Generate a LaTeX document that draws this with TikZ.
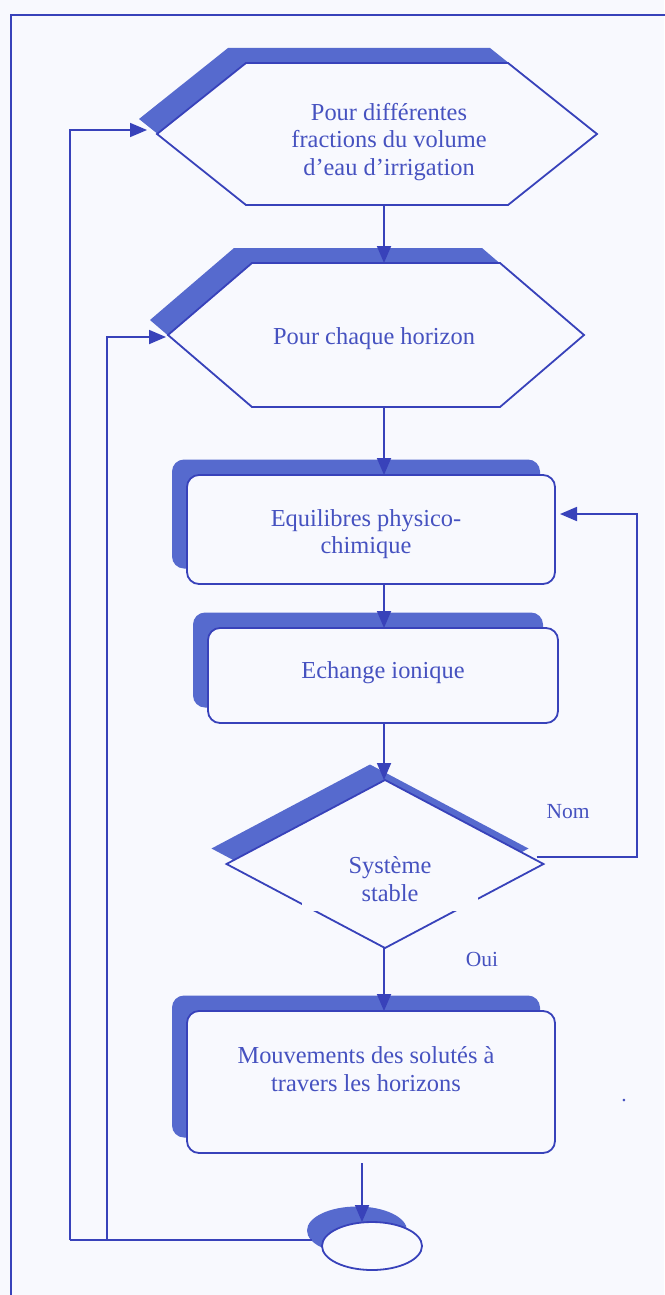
\documentclass[tikz,border=0pt]{standalone}
\usepackage{fontspec}
\setmainfont{Liberation Serif}
\usetikzlibrary{shapes.geometric,shadows,arrows.meta,calc}
\definecolor{ink}{RGB}{56,66,186}
\definecolor{shadowblue}{RGB}{86,106,206}
\definecolor{txt}{RGB}{70,82,192}
\definecolor{paper}{RGB}{248,249,254}
% outline of a hexagon built on a rectangular node: #1 node name, #2 slant width
\newcommand\hexpath[2]{(#1.west) -- ([xshift=#2]#1.north west) -- ([xshift=-#2]#1.north east) -- (#1.east) -- ([xshift=-#2]#1.south east) -- ([xshift=#2]#1.south west) -- cycle}
\begin{document}
\begin{tikzpicture}[x=1pt,y=-1pt,
  line/.style={draw=ink,line width=1.8pt},
  flow/.style={line,-{Triangle[length=17pt,width=14pt]}},
  shad/.style={drop shadow={shadow xshift=-15pt,shadow yshift=15.5pt,fill=shadowblue,opacity=1}},
  hexshad/.style={drop shadow={shadow xshift=-18pt,shadow yshift=15pt,fill=shadowblue,opacity=1}},
  frame/.style={rectangle,inner sep=0pt,outer sep=0pt},
  boxnode/.style={rectangle,rounded corners=12pt,draw=ink,line width=1.8pt,fill=paper,shad,inner sep=0pt,outer sep=0pt},
  lbl/.style={text=txt,font=\fontsize{24.4}{27.5}\selectfont,align=center,inner sep=0pt},
  small/.style={text=txt,font=\fontsize{21.5}{24}\selectfont,inner sep=0pt},
]
\useasboundingbox (0,0) rectangle (664,1295);
\fill[paper] (0,0) rectangle (664,1295);

% page frame
\draw[line] (670,15) -- (11,15) -- (11,1300);

% loop headers (hexagons)
\node[frame,minimum width=440pt,minimum height=142pt] (h1) at (377,134) {};
\draw[line,fill=paper,hexshad] \hexpath{h1}{89pt};
\node[lbl] (t1) at (389,142) {Pour différentes\\fractions du volume\\d’eau d’irrigation};

\node[frame,minimum width=416pt,minimum height=144pt] (h2) at (376,335) {};
\draw[line,fill=paper,hexshad] \hexpath{h2}{84pt};
\node[lbl] (t2) at (374,339) {Pour chaque horizon};

% process boxes
\node[boxnode,minimum width=368pt,minimum height=109pt] (b1) at (371,529.5) {};
\node[lbl] (t3) at (366,534) {Equilibres physico-\\chimique};

\node[boxnode,minimum width=350pt,minimum height=95pt] (b2) at (383,675.5) {};
\node[lbl] (t4) at (383,673) {Echange ionique};

% decision
\node[diamond,draw=ink,line width=1.8pt,fill=paper,shad,minimum width=317pt,minimum height=168pt,inner sep=0pt,outer sep=0pt] (dia) at (385,864) {};
\node[lbl,fill=paper,minimum width=176pt,minimum height=64pt] (t5) at (390,879) {Système\\stable};

\node[boxnode,minimum width=368pt,minimum height=142pt] (b3) at (371,1082) {};
\node[lbl] (t6) at (366,1069) {Mouvements des solutés à\\travers les horizons};

% end of loops
\node[ellipse,draw=ink,line width=1.8pt,fill=paper,shad,minimum width=100pt,minimum height=48pt,inner sep=0pt,outer sep=0pt] (ell) at (372,1246) {};

% labels
\node[small] (nom) at (568,812) {Nom};
\node[small] (oui) at (482,959) {Oui};
\node[small] (dot) at (624,1101) {.};

% main flow
\coordinate (ax) at (384,0);
\draw[flow] (h1.south -| ax) -- (h2.north -| ax);
\draw[flow] (h2.south -| ax) -- (b1.north -| ax);
\draw[flow] (b1.south -| ax) -- (b2.north -| ax);
\draw[flow] (b2.south -| ax) -- (dia.north -| ax);
\draw[flow] (dia.south -| ax) -- (b3.north -| ax);
\draw[flow] ([shift={(-9pt,-10pt)}]b3.south) coordinate (s6) -- (s6 |- ell.north);

% return when not stable
\coordinate (rt) at (637,0);
\draw[flow] ([shift={(-7pt,7pt)}]dia.east) coordinate (n0) -- (n0 -| rt) |- ([shift={(5pt,15.5pt)}]b1.east);

% loop returns
\coordinate (l1) at (70,1240);
\coordinate (l2) at (107,1240);
\draw[line] ([shift={(-10pt,6pt)}]ell.west) -- (l1);
\draw[flow] (l1) |- ([shift={(-10pt,4pt)}]h1.west);
\draw[flow] (l2) |- ([shift={(-2pt,-2pt)}]h2.west);
\end{tikzpicture}
\end{document}
